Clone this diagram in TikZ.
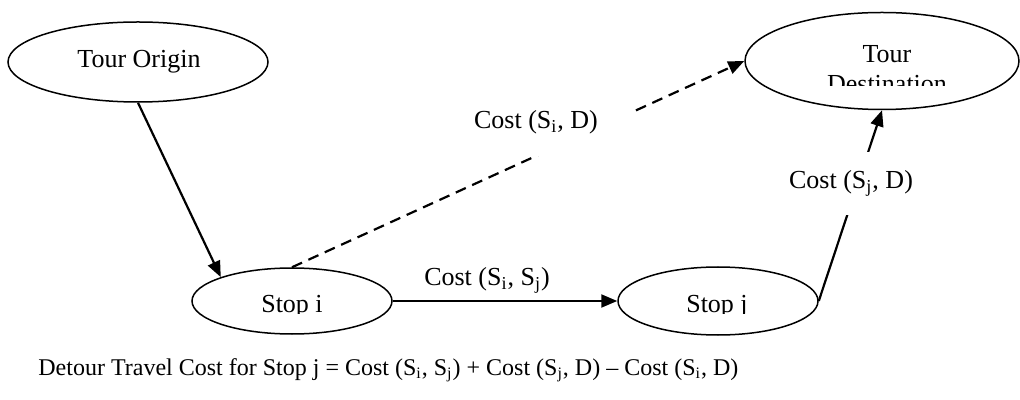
\documentclass[tikz,border=0pt]{standalone}
\usepackage{fontspec}
\setmainfont{Liberation Serif}
\usetikzlibrary{shapes.geometric,arrows.meta}
\begin{document}
\begin{tikzpicture}[x=0.5pt, y=-0.5pt,
		font=\fontsize{13}{15}\selectfont,
		place/.style={draw, ellipse, line width=0.75pt, inner sep=0pt},
		word/.style={inner sep=0pt, anchor=base},
		link/.style={line width=1.1pt, -{Triangle[length=8pt,width=6.5pt]}},
		gap/.style={fill=white, inner sep=0pt}]
		\useasboundingbox (0,0) rectangle (1020,400);

		\node[place, minimum width=130pt, minimum height=40pt] (origin) at (138,62) {};
		\node[place, minimum width=137pt, minimum height=48.5pt] (dest) at (882,61) {};
		\node[place, minimum width=100pt, minimum height=33pt] (stopi) at (292,301) {};
		\node[place, minimum width=100pt, minimum height=34pt] (stopj) at (718,301) {};

		\node[word] (origintext) at (139,68) {Tour Origin};
		% text cut off at the bottom, as in the boxes
		\begin{scope}
			\clip (800,20) rectangle (970,86);
			\node[word] (desttext1) at (887,63) {Tour};
			\node[word] (desttext2) at (887,93) {Destination};
		\end{scope}
		\begin{scope}
			\clip (190,280) rectangle (840,313);
			\node[word] (stopitext) at (292,312) {Stop i};
			\node[word] (stopjtext) at (717,312) {Stop j};
		\end{scope}

		\draw[link] (origin.south) -- (stopi.north west);
		\draw[link] (stopi.east) -- node[pos=0.42, above] {Cost (S\textsubscript{i}, S\textsubscript{j})} (stopj.west);
		\draw[link, dash pattern=on 5.5pt off 3.5pt] (stopi.north) -- (dest.west);
		\draw[link] (stopj.east) -- (dest.south);

		\node[gap, minimum width=96.5pt, minimum height=34pt] (costid) at (536,122) {Cost (S\textsubscript{i}, D)};
		\node[gap, minimum width=67.5pt, minimum height=31.5pt] (costjd) at (851,183.5) {Cost (S\textsubscript{j}, D)};

		\node[word, anchor=base west, font=\fontsize{12}{14}\selectfont] (detour) at (38,375) {Detour Travel Cost for Stop j = Cost (S\textsubscript{i}, S\textsubscript{j}) + Cost (S\textsubscript{j}, D) -- Cost (S\textsubscript{i}, D)};
	\end{tikzpicture}
\end{document}
